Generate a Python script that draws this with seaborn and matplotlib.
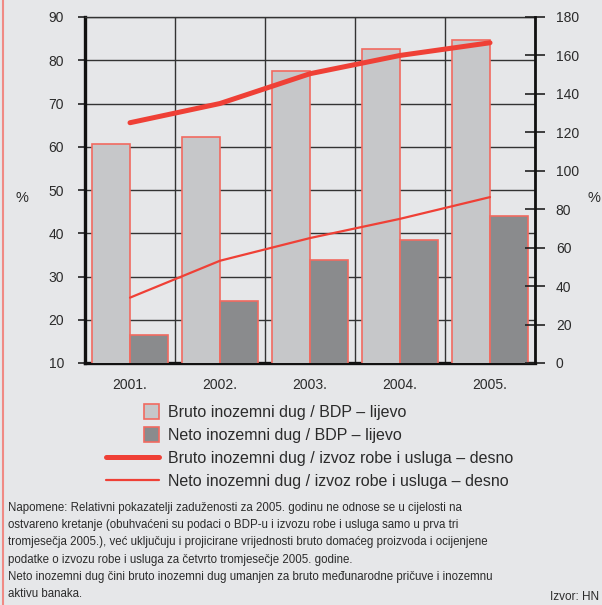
import numpy as np
import pandas as pd
import seaborn as sns
import matplotlib.pyplot as plt
import matplotlib.patches as mpatches
from matplotlib.lines import Line2D
from matplotlib.legend_handler import HandlerPatch

sns.set_style("white")
plt.rcParams['font.family'] = ['Liberation Sans', 'DejaVu Sans']

years = ["2001.", "2002.", "2003.", "2004.", "2005.", ]
bruto_bdp = [60.6, 62.3, 77.5, 82.5, 84.7]
neto_bdp = [16.5, 24.3, 33.7, 38.5, 44.0]
bruto_izvoz = [125.0, 135.0, 150.5, 160.0, 166.6]
neto_izvoz = [34.0, 53.2, 65.0, 75.0, 86.3]

labels = ["Bruto inozemni dug / BDP \u2013 lijevo",
          "Neto inozemni dug / BDP \u2013 lijevo",
          "Bruto inozemni dug / izvoz robe i usluga \u2013 desno",
          "Neto inozemni dug / izvoz robe i usluga \u2013 desno"]

note = ("Napomene: Relativni pokazatelji zaduženosti za 2005. godinu ne odnose se u cijelosti na\n"
        "ostvareno kretanje (obuhvaćeni su podaci o BDP-u i izvozu robe i usluga samo u prva tri\n"
        "tromjesečja 2005.), već uključuju i projicirane vrijednosti bruto domaćeg proizvoda i ocijenjene\n"
        "podatke o izvozu robe i usluga za četvrto tromjesečje 2005. godine.\n"
        "Neto inozemni dug čini bruto inozemni dug umanjen za bruto međunarodne pričuve i inozemnu\n"
        "aktivu banaka.")

bg = "#e6e7e9"
red = "#ef4036"
edge = "#f26a60"
light = "#c6c7c9"
dark = "#8a8b8d"
txt = "#2b2b2b"

df = pd.DataFrame({
    "year": years * 2,
    "value": bruto_bdp + neto_bdp,
    "series": [labels[0]] * len(years) + [labels[1]] * len(years),
})

fig = plt.figure(figsize=(6.02, 6.05), dpi=100, facecolor=bg)
ax = fig.add_axes([85 / 602, 1 - 363 / 605, 450 / 602, 346 / 605])
ax.set_facecolor(bg)

sns.barplot(df, x="year", y="value", hue="series", palette=[light, dark],
            width=0.845, gap=0, edgecolor=edge, linewidth=1.2, saturation=1,
            legend=False, ax=ax, zorder=3)

ax.set_ylim(10, 90)
ax.set_xlim(-0.5, len(years) - 0.5)
ax.set_yticks(np.arange(10, 91, 10))
ax.set_xticks(np.arange(-0.5, len(years), 1.0))
ax.set_xticklabels([])
ax.set_xticks(range(len(years)), minor=True)
ax.set_xticklabels(years, minor=True)
ax.tick_params(axis="x", which="minor", length=0, pad=11, labelsize=10, labelcolor=txt)
ax.tick_params(axis="x", which="major", length=5, width=1.2, color="#222222")
ax.tick_params(axis="y", length=5, width=1.2, color="#222222", labelsize=10, labelcolor=txt, pad=10)
ax.grid(True, which="major", color="#333333", linewidth=1.0, zorder=0)
ax.set_axisbelow(True)
ax.set_xlabel("")
ax.set_ylabel("")
for s in ["left", "bottom"]:
    ax.spines[s].set_linewidth(2.4)
    ax.spines[s].set_color("#111111")
ax.spines["top"].set_linewidth(1.0)
ax.spines["top"].set_color("#333333")

ax2 = ax.twinx()
sns.lineplot(x=np.arange(len(years)), y=bruto_izvoz, color=red, linewidth=3.6, ax=ax2, zorder=5)
sns.lineplot(x=np.arange(len(years)), y=neto_izvoz, color=red, linewidth=1.6, ax=ax2, zorder=5)
ax2.set_ylim(0, 180)
ax2.set_yticks(np.arange(0, 181, 20))
ax2.tick_params(axis="y", direction="inout", length=14, width=1.2, color="#222222",
                labelsize=10, labelcolor=txt, pad=8)
ax2.spines["right"].set_linewidth(2.0)
ax2.spines["right"].set_color("#111111")
for s in ["left", "bottom", "top"]:
    ax2.spines[s].set_visible(False)
ax2.set_xlim(-0.5, len(years) - 0.5)

fig.text(22 / 602, 1 - 198 / 605, "%", ha="center", va="center", fontsize=10.5, color=txt)
fig.text(594 / 602, 1 - 198 / 605, "%", ha="center", va="center", fontsize=10.5, color=txt)


def square(legend, orig_handle, xdescent, ydescent, width, height, fontsize):
    s = fontsize * 0.95
    return mpatches.Rectangle((width - s - xdescent, -ydescent + (height - s) / 2), s, s)


handles = [mpatches.Patch(facecolor=light, edgecolor=edge, linewidth=1.2),
           mpatches.Patch(facecolor=dark, edgecolor=edge, linewidth=1.2),
           Line2D([], [], color=red, linewidth=3.6),
           Line2D([], [], color=red, linewidth=1.6)]
fig.legend(handles, labels, loc="upper left", bbox_to_anchor=(106 / 602, 1 - 405 / 605),
           frameon=False, fontsize=11.5, handlelength=3.3, handletextpad=0.6,
           labelspacing=0.5, borderpad=0, borderaxespad=0,
           handler_map={mpatches.Patch: HandlerPatch(patch_func=square)},
           labelcolor=txt)

fig.text(8 / 602, 1 - 502 / 605, note, ha="left", va="top", fontsize=8.3, color=txt, linespacing=1.58)
fig.text(599 / 602, 1 - 597 / 605, "Izvor: HN", ha="right", va="center", fontsize=8.5, color=txt)
fig.add_artist(Line2D([3 / 602, 3 / 602], [0, 1], transform=fig.transFigure, color="#f08a84", linewidth=1.5))

fig.savefig("out.png", dpi=100, facecolor=bg)
